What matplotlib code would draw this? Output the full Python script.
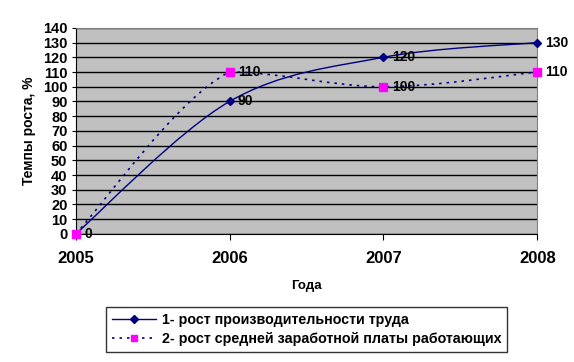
import matplotlib
matplotlib.use("Agg")
from matplotlib import pyplot as plt
from matplotlib.path import Path
from matplotlib.patches import PathPatch
from matplotlib.lines import Line2D

plt.rcParams["font.family"] = ["Liberation Sans", "DejaVu Sans"]

years = [2005, 2006, 2007, 2008]
productivity = [0, 90, 120, 130]
salary = [0, 110, 100, 110]
labels = ["1- рост производительности труда", "2- рост средней заработной платы работающих"]

BLUE = "#000080"
MAGENTA = "#FF00FF"
GRAY = "#C0C0C0"


def smooth_path(xs, ys):
    # Excel-like smoothed line: catmull-rom bezier, control points kept inside each segment's y range
    n = len(xs)
    px = [xs[0]] + list(xs) + [xs[-1]]
    py = [ys[0]] + list(ys) + [ys[-1]]
    verts = [(xs[0], ys[0])]
    codes = [Path.MOVETO]
    for i in range(n - 1):
        lo, hi = min(ys[i], ys[i + 1]), max(ys[i], ys[i + 1])
        c1x = xs[i] + (px[i + 2] - px[i]) / 6
        c1y = min(max(ys[i] + (py[i + 2] - py[i]) / 6, lo), hi)
        c2x = xs[i + 1] - (px[i + 3] - px[i + 1]) / 6
        c2y = min(max(ys[i + 1] - (py[i + 3] - py[i + 1]) / 6, lo), hi)
        verts += [(c1x, c1y), (c2x, c2y), (xs[i + 1], ys[i + 1])]
        codes += [Path.CURVE4] * 3
    return Path(verts, codes)


fig = plt.figure(figsize=(5.74, 3.62), dpi=100)
ax = fig.add_axes([0.132, 0.354, 0.804, 0.569])
ax.set_facecolor(GRAY)

ax.add_patch(PathPatch(smooth_path(years, productivity), fill=False, edgecolor=BLUE, lw=1.0, zorder=3))
ax.add_patch(PathPatch(smooth_path(years, salary), fill=False, edgecolor=BLUE, lw=1.2,
                       linestyle=(0, (1.5, 3)), zorder=3))
ax.plot(years, productivity, linestyle="none", marker="D", ms=4.5, color=BLUE, zorder=4, clip_on=False)
ax.plot(years, salary, linestyle="none", marker="s", ms=6, color=MAGENTA, zorder=5, clip_on=False)

for x, y in zip(years[1:], productivity[1:]):
    ax.annotate(str(y), (x, y), xytext=(6, 0), textcoords="offset points", va="center",
                fontsize=10, fontweight="bold", annotation_clip=False)
for x, y in zip(years, salary):
    ax.annotate(str(y), (x, y), xytext=(6, 0), textcoords="offset points", va="center",
                fontsize=10, fontweight="bold", annotation_clip=False)

ax.set_xlim(2005, 2008)
ax.set_ylim(0, 140)
ax.set_yticks(range(0, 141, 10))
ax.set_xticks(years)
ax.set_xticklabels([str(y) for y in years], fontsize=12, fontweight="bold")
for t in ax.get_yticklabels():
    t.set_fontsize(10.5)
    t.set_fontweight("bold")
ax.tick_params(axis="y", length=3, pad=3)
ax.tick_params(axis="x", length=4.5, pad=8)
ax.yaxis.grid(True, color="black", lw=1)
ax.set_axisbelow(True)
for side in ["top", "right"]:
    ax.spines[side].set_color("#808080")
for side in ["left", "bottom"]:
    ax.spines[side].set_color("black")

ax.set_ylabel("Темпы роста, %", fontsize=10, fontweight="bold", labelpad=5)
ax.set_xlabel("Года", fontsize=9.5, fontweight="bold", labelpad=10)

handles = [
    Line2D([], [], color=BLUE, lw=1, marker="D", ms=4, markerfacecolor=BLUE),
    Line2D([], [], color=BLUE, lw=1.2, linestyle=(0, (1.5, 3)), marker="s", ms=5,
           markerfacecolor=MAGENTA, markeredgecolor=MAGENTA),
]
leg = fig.legend(handles, labels, loc="upper left", bbox_to_anchor=(0.185, 0.152),
                 prop={"size": 10.25, "weight": "bold"}, frameon=True, fancybox=False,
                 edgecolor="black", handlelength=3.1, borderpad=0.4, labelspacing=0.4,
                 handletextpad=0.4, borderaxespad=0)
leg.get_frame().set_linewidth(1)

fig.savefig("out.png", dpi=100)
